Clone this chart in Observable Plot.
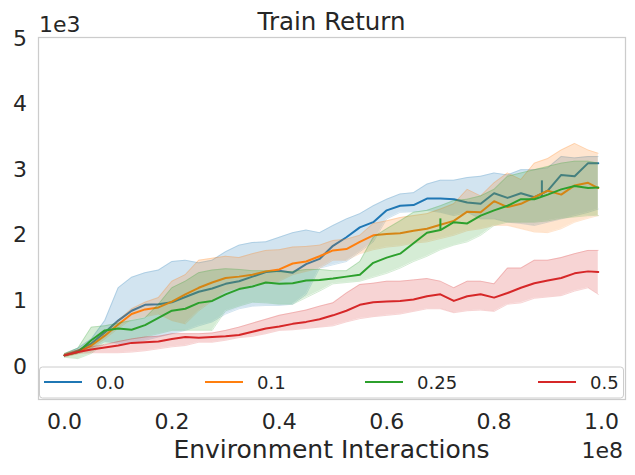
<!DOCTYPE html>
<html><head><meta charset="utf-8">
<script src="https://cdn.jsdelivr.net/npm/d3@7"></script>
<script src="https://cdn.jsdelivr.net/npm/@observablehq/plot@0.6"></script>
<style>
html,body{margin:0;padding:0;background:#fff;}
#chart{width:635px;height:475px;position:relative;}
</style></head><body><div id="chart"></div>
<script>
const labels = ["0.0","0.1","0.25","0.5"];
const colors = ["#1f77b4","#ff7f0e","#2ca02c","#d62728"];
const xTicks = [0,0.2,0.4,0.6,0.8,1.0];
const yTicks = [0,1,2,3,4,5];
const titleText = "Train Return";
const xLabelText = "Environment Interactions";
const xExpText = "1e8";
const yExpText = "1e3";

const xs = [0,0.025,0.05,0.075,0.1,0.125,0.15,0.175,0.2,0.225,0.25,0.275,0.3,0.325,0.35,0.375,0.4,0.425,0.45,0.475,0.5,0.525,0.55,0.575,0.6,0.625,0.65,0.675,0.7,0.725,0.75,0.775,0.8,0.825,0.85,0.875,0.9,0.925,0.95,0.975,0.994];

const mean00 = [0.17,0.24,0.35,0.52,0.70,0.85,0.94,0.95,0.98,1.06,1.14,1.19,1.26,1.30,1.37,1.44,1.46,1.43,1.56,1.64,1.84,1.97,2.12,2.20,2.38,2.45,2.46,2.56,2.56,2.55,2.50,2.48,2.64,2.57,2.64,2.58,2.68,2.92,2.90,3.10,3.10];
const lo00 = [0.15,0.20,0.28,0.38,0.35,0.36,0.40,0.45,0.50,0.55,0.62,0.68,0.80,0.88,0.92,0.93,0.93,0.95,1.10,1.50,1.55,1.60,1.75,1.90,2.25,2.35,2.36,2.38,2.35,2.30,2.35,2.25,2.25,2.20,2.18,2.15,2.20,2.25,2.30,2.35,2.40];
const hi00 = [0.19,0.28,0.42,0.70,1.20,1.36,1.43,1.47,1.60,1.62,1.58,1.62,1.75,1.85,1.89,1.90,1.97,2.04,2.08,2.04,2.15,2.25,2.33,2.45,2.55,2.63,2.65,2.78,2.84,2.84,2.88,2.90,2.95,2.92,3.00,3.00,3.03,3.20,3.18,3.20,3.20];

const mean01 = [0.17,0.22,0.32,0.47,0.64,0.80,0.87,0.90,0.99,1.10,1.20,1.28,1.35,1.37,1.40,1.45,1.48,1.57,1.60,1.68,1.77,1.79,1.90,2.00,2.02,2.03,2.07,2.10,2.16,2.22,2.36,2.35,2.52,2.43,2.48,2.58,2.68,2.62,2.76,2.80,2.72];
const lo01 = [0.15,0.19,0.28,0.42,0.58,0.72,0.76,0.80,0.70,0.65,0.85,1.00,1.15,1.20,1.25,1.28,1.30,1.40,1.45,1.50,1.62,1.62,1.72,1.78,1.82,1.84,1.88,1.90,1.95,2.00,2.07,2.10,2.15,2.15,2.10,2.05,2.04,2.10,2.20,2.26,2.30];
const hi01 = [0.19,0.25,0.36,0.52,0.70,0.88,0.98,1.05,1.30,1.40,1.62,1.65,1.68,1.66,1.72,1.77,1.78,1.82,1.83,1.85,1.92,1.94,2.00,2.18,2.22,2.27,2.30,2.33,2.40,2.48,2.70,2.60,2.80,2.95,2.85,3.10,3.17,3.30,3.40,3.30,3.25];

const mean025 = [0.17,0.22,0.40,0.55,0.58,0.56,0.63,0.74,0.85,0.88,0.97,1.00,1.10,1.18,1.22,1.28,1.26,1.27,1.31,1.32,1.34,1.37,1.40,1.58,1.66,1.72,1.88,2.04,2.08,2.20,2.18,2.30,2.38,2.45,2.55,2.55,2.62,2.70,2.75,2.72,2.73];
const lo025 = [0.14,0.12,0.20,0.35,0.38,0.42,0.45,0.50,0.55,0.55,0.55,0.55,0.85,0.92,0.98,0.97,0.95,0.95,1.05,1.15,1.26,1.28,1.30,1.36,1.42,1.50,1.60,1.68,1.78,1.85,1.90,2.00,2.15,2.20,2.20,2.20,2.22,2.26,2.28,2.30,2.30];
const hi025 = [0.20,0.28,0.60,0.62,0.66,0.70,0.74,0.95,1.20,1.30,1.43,1.47,1.49,1.48,1.46,1.46,1.44,1.45,1.48,1.48,1.46,1.46,1.60,1.97,2.10,2.22,2.35,2.38,2.45,2.53,2.55,2.60,2.70,2.90,2.95,3.00,3.05,3.10,3.13,3.13,3.10];

const mean05 = [0.17,0.22,0.26,0.29,0.32,0.36,0.37,0.38,0.42,0.45,0.44,0.45,0.46,0.48,0.53,0.58,0.61,0.65,0.68,0.72,0.78,0.85,0.94,0.98,0.99,1.00,1.02,1.07,1.10,1.00,1.07,1.10,1.05,1.12,1.20,1.27,1.31,1.35,1.42,1.45,1.44];
const lo05 = [0.15,0.20,0.21,0.21,0.21,0.22,0.24,0.27,0.30,0.32,0.37,0.37,0.40,0.44,0.46,0.50,0.55,0.56,0.58,0.60,0.62,0.68,0.73,0.76,0.78,0.80,0.84,0.88,0.88,0.82,0.85,0.86,0.84,0.95,0.97,1.04,1.06,1.08,1.15,1.20,1.10];
const hi05 = [0.19,0.25,0.30,0.33,0.38,0.42,0.45,0.46,0.50,0.50,0.50,0.51,0.55,0.60,0.66,0.72,0.78,0.82,0.86,0.92,0.97,1.12,1.25,1.27,1.30,1.30,1.32,1.34,1.30,1.20,1.30,1.30,1.26,1.50,1.50,1.62,1.62,1.66,1.72,1.77,1.77];

// short vertical glitches in the mean curves
const spikeSeries = ["0.0","0.25"];
const spikeX = [0.889,0.700];
const spikeLow = [2.58,2.08];
const spikeHigh = [2.83,2.25];

const seriesArrays = [[mean00,lo00,hi00],[mean01,lo01,hi01],[mean025,lo025,hi025],[mean05,lo05,hi05]];
const tables = labels.map((s,i)=>xs.map((x,j)=>({series:s,x,y:seriesArrays[i][0][j],lo:seriesArrays[i][1][j],hi:seriesArrays[i][2][j]})));
const spikes = spikeSeries.map((s,i)=>({series:s,x:spikeX[i],y1:spikeLow[i],y2:spikeHigh[i]}));

const W=635,H=475, mL=38, mR=10, mT=37, mB=76;
const textColor="#262626";
const font="DejaVu Sans";

const marks=[];
tables.forEach((t,i)=>{
  marks.push(Plot.areaY(t,{x:"x",y1:"lo",y2:"hi",fill:"series",fillOpacity:0.2}));
  marks.push(Plot.line(t,{x:"x",y:"lo",stroke:"series",strokeOpacity:0.2,strokeWidth:1}));
  marks.push(Plot.line(t,{x:"x",y:"hi",stroke:"series",strokeOpacity:0.2,strokeWidth:1}));
  marks.push(Plot.line(t,{x:"x",y:"y",stroke:"series",strokeWidth:2}));
  marks.push(Plot.ruleX(spikes.filter(d=>d.series===labels[i]),{x:"x",y1:"y1",y2:"y2",stroke:"series",strokeWidth:2}));
});
marks.push(Plot.frame({stroke:"#cccccc",strokeWidth:1.25}));
marks.push(Plot.axisX(xTicks,{tickSize:0,tickPadding:14,tickFormat:d=>d.toFixed(1),fontSize:22,fill:textColor,label:null}));
marks.push(Plot.axisY(yTicks,{tickSize:0,tickPadding:11.5,tickFormat:d=>String(d),fontSize:22,fill:textColor,label:null}));

const chart = Plot.plot({
  width:W,height:H,marginLeft:mL,marginRight:mR,marginTop:mT,marginBottom:mB,
  x:{domain:[-0.0484,1.0447]},
  y:{domain:[-0.503,5.015]},
  color:{domain:labels,range:colors},
  style:{fontFamily:font,background:"white",color:textColor,overflow:"visible"},
  marks
});
document.getElementById("chart").appendChild(chart);

const svg = d3.select(chart);
const addText=(txt,x,y,size,anchor)=>svg.append("text").attr("x",x).attr("y",y).attr("font-size",size).attr("font-family",font).attr("fill",textColor).attr("text-anchor",anchor).text(txt);
addText(titleText,(mL+W-mR)/2,30,24.5,"middle");
addText(xLabelText,(mL+W-mR)/2,458,25,"middle");
addText(yExpText,39,32,22,"start");
addText(xExpText,623,458,22,"end");

// legend (inside axes, bottom, 4 columns)
const lg = svg.append("g");
lg.append("rect").attr("x",39.5).attr("y",367).attr("width",584).attr("height",31).attr("rx",3)
  .attr("fill","white").attr("fill-opacity",0.8).attr("stroke","#cccccc").attr("stroke-width",1);
const handleX=[44,205,365,538];
labels.forEach((s,i)=>{
  lg.append("line").attr("x1",handleX[i]).attr("x2",handleX[i]+38).attr("y1",382).attr("y2",382)
    .attr("stroke",colors[i]).attr("stroke-width",2);
  lg.append("text").attr("x",handleX[i]+52).attr("y",388.5).attr("font-size",18).attr("font-family",font)
    .attr("text-anchor","start").attr("fill",textColor).text(s);
});
</script></body></html>
